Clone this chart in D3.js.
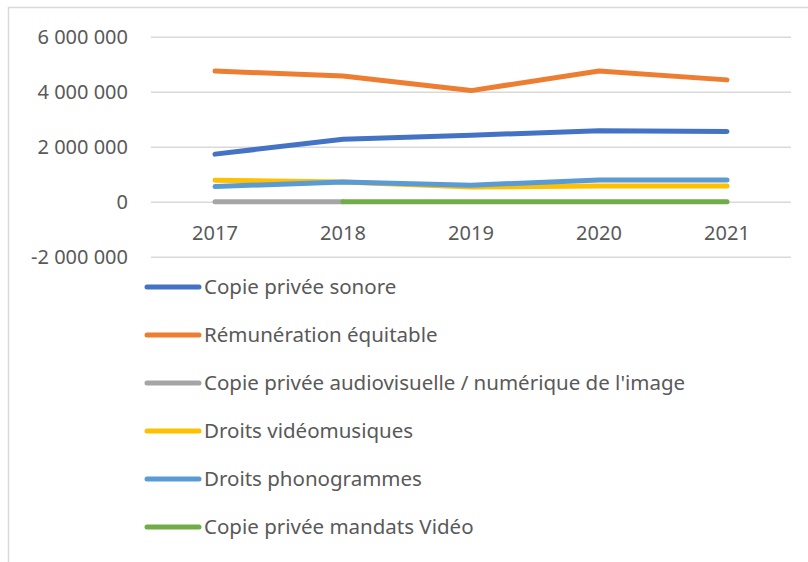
<!DOCTYPE html>
<head>
  <style>
    body { margin: 0; background: #fff; }
  </style>
</head>
<body>
<svg id="chart" width="808" height="562" font-family="Noto Sans, sans-serif"></svg>
<script src="https://d3js.org/d3.v7.min.js"></script>
<script>
var years = ["2017", "2018", "2019", "2020", "2021"];

// valeurs (en euros)
var series = [
  {name: "Copie privée sonore", color: "#4472C4", values: [1730000, 2270000, 2420000, 2580000, 2550000]},
  {name: "Rémunération équitable", color: "#ED7D31", values: [4750000, 4570000, 4040000, 4750000, 4430000]},
  {name: "Copie privée audiovisuelle / numérique de l'image", color: "#A5A5A5", values: [0, 0, null, null, null]},
  {name: "Droits vidéomusiques", color: "#FFC000", values: [780000, 720000, 530000, 570000, 570000]},
  {name: "Droits phonogrammes", color: "#5B9BD5", values: [550000, 720000, 600000, 790000, 790000]},
  {name: "Copie privée mandats Vidéo", color: "#70AD47", values: [null, 0, 0, 0, 0]}
];

var svg = d3.select("svg");

svg.append("rect")
    .attr("x", 8.5).attr("y", 7.5)
    .attr("width", 900).attr("height", 700)
    .attr("fill", "none")
    .attr("stroke", "#d9d9d9")
    .attr("stroke-width", 1.5);

var x = d3.scaleBand()
    .domain(years)
    .range([151, 791]);

var y = d3.scaleLinear()
    .domain([-2000000, 6000000])
    .range([256.7, 36.7]);

var format = function(v) {
  return d3.format(",d")(v).replace(/,/g, " ").replace("−", "-");
};

var yAxis = svg.append("g")
    .attr("transform", "translate(151,0)")
    .call(d3.axisLeft(y).tickValues([-2000000, 0, 2000000, 4000000, 6000000])
      .tickSize(-640).tickPadding(23).tickFormat(format));
yAxis.select(".domain").remove();
yAxis.selectAll(".tick line").attr("stroke", "#d9d9d9").attr("stroke-width", 1.5);
yAxis.selectAll(".tick text")
    .attr("fill", "#595959")
    .attr("font-size", 20)
    .attr("font-family", "Noto Sans, sans-serif");

svg.append("g").selectAll("text")
    .data(years)
    .enter().append("text")
      .attr("x", function(d) { return x(d) + x.bandwidth() / 2; })
      .attr("y", 240)
      .attr("text-anchor", "middle")
      .attr("fill", "#595959")
      .attr("font-size", 20)
      .text(function(d) { return d; });

var line = d3.line()
    .defined(function(d) { return d != null; })
    .x(function(d, i) { return x(years[i]) + x.bandwidth() / 2; })
    .y(function(d) { return y(d); });

svg.append("g").selectAll("path")
    .data(series)
    .enter().append("path")
      .attr("d", function(d) { return line(d.values); })
      .attr("fill", "none")
      .attr("stroke", function(d) { return d.color; })
      .attr("stroke-width", 5)
      .attr("stroke-linecap", "round")
      .attr("stroke-linejoin", "round");

var legend = svg.append("g").selectAll("g")
    .data(series)
    .enter().append("g")
      .attr("transform", function(d, i) { return "translate(0," + (287 + i * 48) + ")"; });

legend.append("line")
    .attr("x1", 147).attr("x2", 199)
    .attr("stroke", function(d) { return d.color; })
    .attr("stroke-width", 5)
    .attr("stroke-linecap", "round");

legend.append("text")
    .attr("x", 204)
    .attr("dy", "0.35em")
    .attr("fill", "#595959")
    .attr("font-size", 20.5)
    .text(function(d) { return d.name; });
</script>
</body>
